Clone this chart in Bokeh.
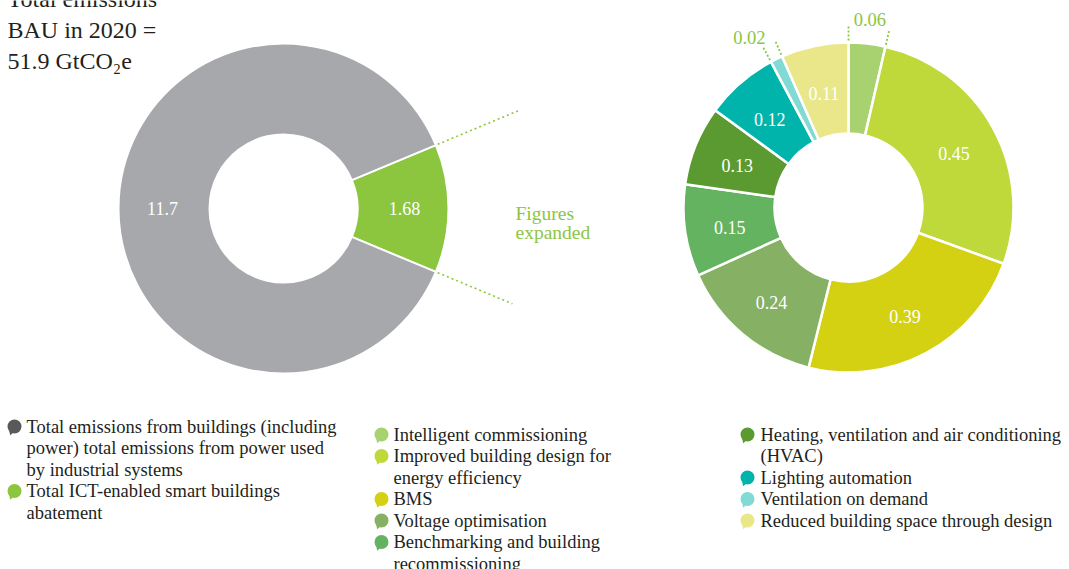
import math
from bokeh.plotting import figure
from bokeh.models import Range1d, ColumnDataSource
from bokeh.core.properties import value
from bokeh.embed import file_html
from bokeh.resources import INLINE

# ---------------- data ----------------
overview_names = ["Total ICT-enabled smart buildings abatement",
                  "Total emissions from buildings (including power) total emissions from power used by industrial systems"]
overview_values = [1.68, 11.7]
overview_labels = ["1.68", "11.7"]
overview_colors = ["#8cc63f", "#a7a8ab"]

lever_names = ["Intelligent commissioning",
               "Improved building design for energy efficiency",
               "BMS",
               "Voltage optimisation",
               "Benchmarking and building recommissioning",
               "Heating, ventilation and air conditioning (HVAC)",
               "Lighting automation",
               "Ventilation on demand",
               "Reduced building space through design"]
lever_values = [0.06, 0.45, 0.39, 0.24, 0.15, 0.13, 0.12, 0.02, 0.11]
lever_labels = ["0.06", "0.45", "0.39", "0.24", "0.15", "0.13", "0.12", "0.02", "0.11"]
lever_colors = ["#a8d26f", "#bfd93b", "#d4d112", "#86b064", "#64b360",
                "#5b9a31", "#00b4ab", "#82dad5", "#e9e78a"]

title_lines = ["Total emissions", "BAU in 2020 =", "51.9 GtCO\u2082e"]
expanded_lines = ["Figures", "expanded"]

legend1_lines = [["Total emissions from buildings (including",
                  "power) total emissions from power used",
                  "by industrial systems"],
                 ["Total ICT-enabled smart buildings", "abatement"]]
legend1_colors = ["#58595b", "#8cc63f"]
legend2_lines = [["Intelligent commissioning"],
                 ["Improved building design for", "energy efficiency"],
                 ["BMS"],
                 ["Voltage optimisation"],
                 ["Benchmarking and building", "recommissioning"]]
legend3_lines = [["Heating, ventilation and air conditioning", "(HVAC)"],
                 ["Lighting automation"],
                 ["Ventilation on demand"],
                 ["Reduced building space through design"]]

# ---------------- layout ----------------
W, H = 1069, 569
FONT = value("Liberation Serif")
TXT = "#231f20"
GREEN = "#8cc63f"


def Y(ry):
    return H - ry


p = figure(width=W, height=H, x_range=Range1d(0, W), y_range=Range1d(0, H),
           output_backend="svg", toolbar_location=None, min_border=0)
p.axis.visible = False
p.grid.visible = False
p.outline_line_color = None
p.background_fill_color = "white"

# ---- left donut ----
lcx, lcy = 283, Y(208)
r_in, r_out = 74, 165
tot = sum(overview_values)
a0 = -overview_values[0] / tot * math.pi
starts, ends, mids = [], [], []
cur = a0
for v in overview_values:
    s = cur
    e = cur + v / tot * 2 * math.pi
    starts.append(s); ends.append(e); mids.append((s + e) / 2)
    cur = e
src = ColumnDataSource(dict(s=starts, e=ends, c=overview_colors))
p.annular_wedge(x=lcx, y=lcy, inner_radius=r_in, outer_radius=r_out, start_angle="s",
                end_angle="e", fill_color="c", line_color="white", line_width=2,
                direction="anticlock", source=src)
p.text(x=[lcx + 121 * math.cos(m) for m in mids], y=[lcy + 121 * math.sin(m) for m in mids],
       text=overview_labels, text_color="white", text_font=FONT, text_font_size="18px",
       text_align="center", text_baseline="middle")
# dotted leader lines from the abatement slice
for ang, rr in [(ends[0], 255), (starts[0], 248)]:
    p.line(x=[lcx + 167 * math.cos(ang), lcx + rr * math.cos(ang)],
           y=[lcy + 167 * math.sin(ang), lcy + rr * math.sin(ang)],
           line_color=GREEN, line_width=1.6, line_dash="2 3")
p.text(x=[515, 515], y=[Y(213), Y(232)], text=expanded_lines, text_color=GREEN,
       text_font=FONT, text_font_size="19.5px", text_align="left", text_baseline="middle")

# ---- right donut ----
rcx, rcy = 848, Y(207)
tot2 = sum(lever_values)
s2, e2, m2 = [], [], []
cum = 0.0
for v in lever_values:
    s = math.pi / 2 - cum / tot2 * 2 * math.pi
    cum += v
    e = math.pi / 2 - cum / tot2 * 2 * math.pi
    s2.append(s); e2.append(e); m2.append((s + e) / 2)
src2 = ColumnDataSource(dict(s=s2, e=e2, c=lever_colors))
p.annular_wedge(x=rcx, y=rcy, inner_radius=r_in, outer_radius=r_out, start_angle="s",
                end_angle="e", fill_color="c", line_color="white", line_width=2.5,
                direction="clock", source=src2)
in_x, in_y, in_t = [], [], []
for v, lab, s, e, m in zip(lever_values, lever_labels, s2, e2, m2):
    if v >= 0.1:
        in_x.append(rcx + 120 * math.cos(m)); in_y.append(rcy + 120 * math.sin(m) - 3); in_t.append(lab)
    else:
        align = "right" if math.cos(m) < -0.2 else "center"
        p.text(x=[rcx + 190 * math.cos(m)], y=[rcy + 190 * math.sin(m) - 1], text=[lab],
               text_color=GREEN, text_font=FONT, text_font_size="18.5px",
               text_align=align, text_baseline="middle")
        for ang in (s, e):
            p.line(x=[rcx + 167 * math.cos(ang), rcx + 183 * math.cos(ang)],
                   y=[rcy + 167 * math.sin(ang), rcy + 183 * math.sin(ang)],
                   line_color=GREEN, line_width=1.8, line_dash="2 2")
p.text(x=in_x, y=in_y, text=in_t, text_color="white", text_font=FONT, text_font_size="18px",
       text_align="center", text_baseline="middle")

# ---- title ----
p.text(x=[7] * len(title_lines), y=[Y(-2 + 31 * i) for i in range(len(title_lines))],
       text=title_lines, text_color=TXT, text_font=FONT, text_font_size="24px",
       text_align="left", text_baseline="middle")

# ---- legends ----
LH = 21.5


def legend(entries, colors, mx, tx, y0):
    y = y0
    for lines, col in zip(entries, colors):
        p.scatter(x=[mx - 3], y=[Y(y + 5)], marker="triangle", size=7, angle=math.radians(40),
                  fill_color=col, line_color=None)
        p.scatter(x=[mx], y=[Y(y)], marker="circle", size=14, fill_color=col, line_color=None)
        p.text(x=[tx] * len(lines), y=[Y(y + LH * i) for i in range(len(lines))], text=lines,
               text_color=TXT, text_font=FONT, text_font_size="18.5px", text_align="left",
               text_baseline="middle")
        y += LH * len(lines)


legend(legend1_lines, legend1_colors, 14, 26, 426)
legend(legend2_lines, lever_colors[:5], 381, 393, 434)
legend(legend3_lines, lever_colors[5:], 747, 760, 434)

open("out.html", "w").write(file_html(p, INLINE))
